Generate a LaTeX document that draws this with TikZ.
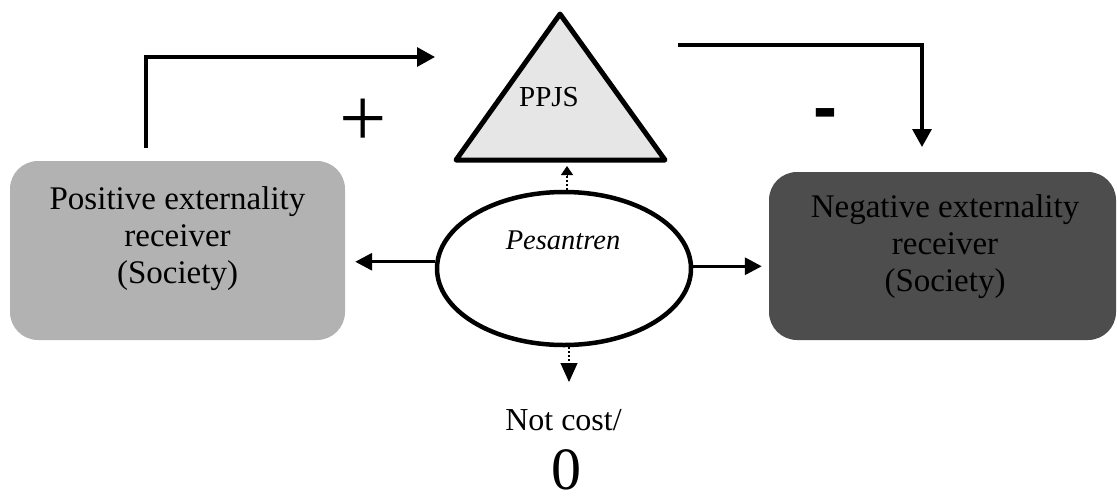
\documentclass[tikz,border=0pt]{standalone}
\usepackage{fontspec}
\setmainfont{Liberation Serif}
\newfontfamily\sansfam{Liberation Sans}
\usetikzlibrary{arrows.meta,shapes.geometric,calc}
\definecolor{posgray}{RGB}{178,178,178}
\definecolor{neggray}{RGB}{77,77,77}
\definecolor{trigray}{RGB}{230,230,230}
\begin{document}
\begin{tikzpicture}[x=1pt,y=-1pt,
  box/.style={rounded corners=28pt, inner sep=0pt},
  boxtext/.style={align=center, font=\fontsize{33}{37}\selectfont},
  conn/.style={line width=3.3pt, -{Triangle[length=18pt,width=19pt]}},
  side/.style={line width=3.3pt, -{Triangle[length=17pt,width=17pt]}},
  dotline/.style={line width=2pt, dash pattern=on 2pt off 2pt},
]
\useasboundingbox (0,0) rectangle (1117,499);

% boxes
\node[box, fill=posgray, minimum width=335pt, minimum height=179pt] (left) at (177.5,250.5) {};
\node[boxtext] (lefttext) at (177.5,239) {Positive externality\\receiver\\(Society)};
\node[box, fill=neggray, minimum width=347pt, minimum height=168pt] (right) at (942.5,256) {};
\node[boxtext] (righttext) at (945,247) {Negative externality\\receiver\\(Society)};

% triangle
\draw[line width=5pt, line join=round, fill=trigray]
  (560,14) coordinate (tA) -- (665,160) coordinate (tR) -- (456,160) coordinate (tL) -- cycle;
\node[font=\fontsize{29}{32}\selectfont] (ppjs) at (549,97) {PPJS};
\coordinate (tB) at (567,166);

% ellipse
\node[ellipse, draw, line width=4.5pt, fill=white, minimum width=254pt, minimum height=153pt, inner sep=0pt] (pes) at (564,268.5) {};
\node[font=\fontsize{28.5}{32}\selectfont\itshape] (pestext) at (563,240) {Pesantren};

% side arrows
\draw[side, shorten >=10pt] (pes.177) -- (pes.177 -| left.east);
\draw[side, shorten >=7pt] (pes.1.5) -- (pes.1.5 -| right.west);

% dotted arrows
\draw[dotline] ($(pes.north)+(3,0)$) -- ($(tB)+(0,10)$);
\draw[-{Triangle[length=9pt,width=12pt]}, line width=1pt] ($(tB)+(0,9)$) -- (tB);
\coordinate (nc) at (569,382);
\draw[dotline] ($(pes.south)+(5,0)$) -- ($(nc)+(0,-18)$);
\draw[-{Triangle[length=19pt,width=17pt]}, line width=1pt] ($(nc)+(0,-19)$) -- (nc);

% top connectors
\coordinate (pin) at (435,57);
\draw[conn] ($(left.north)+(-31.5,-13)$) |- (pin);
\coordinate (nout) at (678,45);
\coordinate (nin) at (922,147);
\draw[conn] (nout) -| (nin);

% signs
\node[font=\fontsize{84}{90}\selectfont] (plus) at (363,123) {+};
\node[font=\fontsize{72}{76}\selectfont\sansfam\bfseries] (minus) at (825.5,120) {-};

% bottom labels
\node[font=\fontsize{32}{36}\selectfont] (notcost) at (563.5,420) {Not cost/};
\node[font=\fontsize{60}{66}\selectfont, inner sep=1pt] (zero) at (566,470) {0};
\end{tikzpicture}
\end{document}
